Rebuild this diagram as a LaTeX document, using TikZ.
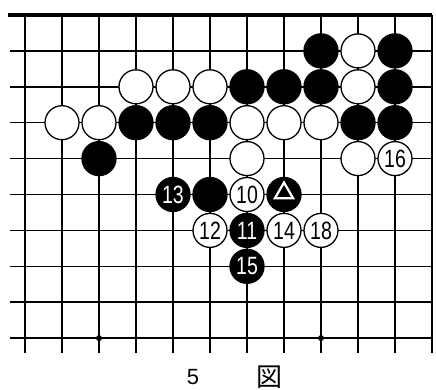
\documentclass[tikz,border=0pt]{standalone}
\usepackage{fontspec}
\usepackage{graphicx}
\setmainfont{Liberation Sans}
\newfontfamily\cjk{Noto Sans CJK JP}
\usetikzlibrary{shapes.geometric}
\newcommand{\num}[1]{\scalebox{0.78}[1]{#1}}
\tikzset{
  gridline/.style={line width=1.6pt},
  edgeline/.style={line width=3.2pt},
  stone/.style={circle, inner sep=0pt, minimum size=34pt, line width=1.3pt, font=\fontsize{25}{25}\selectfont},
  wst/.style={stone, draw=black, fill=white, text=black},
  bst/.style={stone, draw=black, fill=black, text=white},
  star/.style={circle, fill=black, inner sep=0pt, minimum size=6pt},
  tri/.style={regular polygon, regular polygon sides=3, draw=white, line width=2.2pt, inner sep=0pt, minimum size=21pt},
}
\begin{document}
\begin{tikzpicture}[x=1pt,y=-1pt]
\useasboundingbox (0,0) rectangle (436,390);
\foreach \c in {0,...,11}{
  \foreach \r in {0,...,9}{
    \coordinate (g-\c-\r) at ({25+37*\c},{15+35.9*\r});
  }
}
% grid
\foreach \c in {0,...,11}{
  \draw[gridline] (g-\c-0) -- ++(0,338);
}
\foreach \r in {1,...,9}{
  \draw[gridline] (g-0-\r) ++(-15,0) -- (g-11-\r);
}
\draw[edgeline] (g-0-0) ++(-17,0) -- (g-11-0);
% star points
\node[star] (s1) at (g-2-9) {};
\node[star] (s2) at (g-8-9) {};
% row 1
\node[bst] (b81) at (g-8-1) {};
\node[wst] (w91) at (g-9-1) {};
\node[bst] (b101) at (g-10-1) {};
% row 2
\node[wst] (w32) at (g-3-2) {};
\node[wst] (w42) at (g-4-2) {};
\node[wst] (w52) at (g-5-2) {};
\node[bst] (b62) at (g-6-2) {};
\node[bst] (b72) at (g-7-2) {};
\node[bst] (b82) at (g-8-2) {};
\node[wst] (w92) at (g-9-2) {};
\node[bst] (b102) at (g-10-2) {};
% row 3
\node[wst] (w13) at (g-1-3) {};
\node[wst] (w23) at (g-2-3) {};
\node[bst] (b33) at (g-3-3) {};
\node[bst] (b43) at (g-4-3) {};
\node[bst] (b53) at (g-5-3) {};
\node[wst] (w63) at (g-6-3) {};
\node[wst] (w73) at (g-7-3) {};
\node[wst] (w83) at (g-8-3) {};
\node[bst] (b93) at (g-9-3) {};
\node[bst] (b103) at (g-10-3) {};
% row 4
\node[bst] (b24) at (g-2-4) {};
\node[wst] (w64) at (g-6-4) {};
\node[wst] (w94) at (g-9-4) {};
\node[wst] (m16) at (g-10-4) {\num{16}};
% row 5
\node[bst] (m13) at (g-4-5) {\num{13}};
\node[bst] (b55) at (g-5-5) {};
\node[wst] (m10) at (g-6-5) {\num{10}};
\node[bst] (bt) at (g-7-5) {};
\node[tri] (t) at ([yshift=1.5pt]bt.center) {};
% row 6
\node[wst] (m12) at (g-5-6) {\num{12}};
\node[bst] (m11) at (g-6-6) {\num{11}};
\node[wst] (m14) at (g-7-6) {\num{14}};
\node[wst] (m18) at (g-8-6) {\num{18}};
% row 7
\node[bst] (m15) at (g-6-7) {\num{15}};
% caption
\node[font=\fontsize{22}{22}\selectfont] (n5) at (193,377) {5};
\node[font=\cjk\fontsize{26}{26}\selectfont] (zu) at (269,377) {図};
\end{tikzpicture}
\end{document}
